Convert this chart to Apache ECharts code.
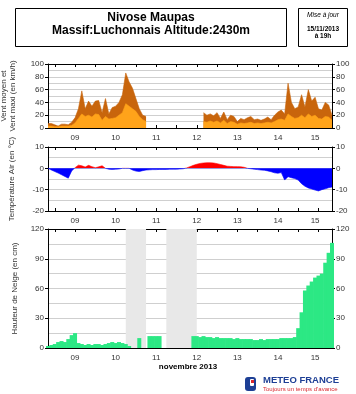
<!DOCTYPE html>
<html><head><meta charset="utf-8">
<script src="https://cdn.jsdelivr.net/npm/echarts@6/dist/echarts.min.js"></script>
<style>html,body{margin:0;padding:0;background:#fff}#c{width:356px;height:394px}</style>
</head><body><div id="c"></div>
<script>
// 2-hourly time steps from 08/11 20h to 15/11 20h
const categories = [];
for (let i = 0; i < 85; i++) {
  const h = 20 + 2 * i, d = 8 + Math.floor(h / 24), hh = h % 24;
  categories.push(String(d).padStart(2, '0') + ' ' + String(hh).padStart(2, '0') + 'h');
}
const dayLabels = {'09 12h':'09','10 12h':'10','11 12h':'11','12 12h':'12','13 12h':'13','14 12h':'14','15 10h':'15'};
const tickHours = ['00h', '12h'];

const windMax = [7,7,5,3,6,6,5,9,16,30, 58,30,42,34,42,43,24,46,22,32, 34,40,52,86,72,62,46,30,20,18,
  null,null,null,null,null,null,null,null,null,null,null,null,null,null,null,null,
  24,20,22,19,24,15,25,13,20,18,10,15,13,16,18,13,14,12,14,17,13,20,25,28,22,70,40,30,33,52,33,60,42,48,30,28,40,36,20];
const windMean = [3,3,2,2,3,3,3,4,8,15, 22,18,20,17,22,21,12,18,14,15, 16,20,24,38,34,30,26,18,13,10,
  null,null,null,null,null,null,null,null,null,null,null,null,null,null,null,null,
  10,9,11,9,11,8,12,7,10,9,6,8,7,8,9,7,8,7,8,9,8,10,13,14,12,22,18,15,16,20,16,22,18,20,15,14,18,17,12];
const temperature = [0,-0.8,-1.5,-2.2,-3.0,-3.8,-4.6,-1.2,0.3,1.5,
  1.2,0.6,1.4,0.8,0.3,0.7,1.2,0,-0.4,-0.5,
  -0.4,-0.3,0,0,0,-0.8,-1.3,-1.5,-1.1,-0.8,
  -0.7,-0.6,-0.6,-0.5,-0.5,-0.5,-0.4,-0.4,-0.4,-0.3,
  -0.2,0.2,0.8,1.4,1.9,2.3,2.5,2.6,2.6,2.5,
  2.2,1.8,1.4,1.0,0.9,0.8,0.8,0.7,0.5,0,
  -0.2,-0.4,-0.6,-0.8,-0.9,-1.2,-1.6,-2.1,-2.3,-2.0,
  -5.5,-3.9,-4.4,-4.8,-5.5,-7.2,-8.4,-9.2,-9.7,-10.2,
  -10.6,-10.0,-9.6,-9.1,-8.8];
const snow = [2,3,4,6,7,6,9,13,15,5,
  4,3,4,3,4,4,3,4,5,6,
  5,6,5,4,2,null,null,10,null,null,
  12,12,12,12,null,null,null,null,null,null,
  null,null,null,12,12,11,12,11,11,10,
  11,10,10,10,10,9,10,9,9,9,
  9,8,8,9,8,9,9,9,9,10,
  10,10,10,11,20,36,58,63,67,71,
  73,75,86,96,106];
const snowGaps = [['10 22h','11 00h'], ['11 04h','11 06h'], ['11 16h','12 10h']];

const FONT = 'Liberation Sans, Arial, sans-serif';
const chart = echarts.init(document.getElementById('c'), null, {renderer: 'canvas'});

function xAx(grid, pos, labels) {
  return {
    type: 'category', data: categories, gridIndex: grid, position: pos, boundaryGap: false,
    axisLine: {show: true, onZero: false, lineStyle: {color: '#000', width: 1}},
    axisTick: {show: true, inside: true, length: 3, lineStyle: {color: '#000'},
      interval: (i, v) => tickHours.includes(v.slice(3))},
    axisLabel: {show: labels, interval: (i, v) => v in dayLabels, formatter: v => dayLabels[v] || '',
      fontSize: 8, color: '#333', margin: 6, fontFamily: FONT},
    splitLine: {show: false}
  };
}
function yAx(grid, pos, min, max, interval, name, nameGap) {
  const left = pos === 'left';
  return {
    type: 'value', gridIndex: grid, position: pos, min, max, interval,
    name: left ? name : '', nameLocation: 'middle', nameGap: nameGap, nameRotate: 90,
    nameTextStyle: {fontSize: 8, color: '#333', fontFamily: FONT, lineHeight: 8.5},
    axisLine: {show: true, lineStyle: {color: '#000', width: 1}},
    axisTick: {show: true, length: 3, lineStyle: {color: '#000'}},
    axisLabel: {fontSize: 8, color: '#333', margin: 4, fontFamily: FONT},
    splitLine: {show: left, lineStyle: {color: '#cfcfcf', width: 1}},
    minorTick: {show: false, splitNumber: 2},
    minorSplitLine: {show: left, lineStyle: {color: '#cfcfcf', width: 1}}
  };
}

const gridBase = {left: 48, right: 24, containLabel: false, outerBoundsMode: 'none'};
const option = {
  animation: false,
  textStyle: {fontFamily: FONT},
  grid: [
    Object.assign({top: 64, height: 64}, gridBase),
    Object.assign({top: 147, height: 64}, gridBase),
    Object.assign({top: 229, height: 119}, gridBase)
  ],
  xAxis: [xAx(0, 'bottom', true), xAx(0, 'top', false), xAx(1, 'bottom', true), xAx(1, 'top', false), xAx(2, 'bottom', true), xAx(2, 'top', false)],
  yAxis: [
    yAx(0, 'left', 0, 100, 20, 'Vent moyen et\nVent maxi (en km/h)', 31),
    yAx(0, 'right', 0, 100, 20),
    yAx(1, 'left', -20, 10, 10, 'Température Air (en °C)', 32),
    yAx(1, 'right', -20, 10, 10),
    yAx(2, 'left', 0, 120, 30, 'Hauteur de Neige (en cm)', 29),
    yAx(2, 'right', 0, 120, 30)
  ],
  visualMap: {show: false, seriesIndex: 2, dimension: 1,
    pieces: [{gte: -30, lt: 0, color: '#0000ff'}, {gte: 0, lte: 30, color: '#ff0000'}]},
  series: [
    {type: 'line', xAxisIndex: 0, yAxisIndex: 0, data: windMax, symbol: 'none', connectNulls: false,
      lineStyle: {color: '#c8650c', width: 0.6}, itemStyle: {color: '#c8650c'}, areaStyle: {color: '#c8650c', opacity: 1}},
    {type: 'line', xAxisIndex: 0, yAxisIndex: 0, data: windMean, symbol: 'none', connectNulls: false,
      lineStyle: {color: '#ffa31a', width: 0.6}, itemStyle: {color: '#ffa31a'}, areaStyle: {color: '#ffa31a', opacity: 1}},
    {type: 'line', xAxisIndex: 2, yAxisIndex: 2, data: temperature, symbol: 'none',
      lineStyle: {width: 0.6}, areaStyle: {opacity: 1}},
    {type: 'bar', xAxisIndex: 4, yAxisIndex: 4, data: snow, barWidth: 4,
      itemStyle: {color: '#2ce884'},
      markArea: {silent: true, itemStyle: {color: '#e8e8e8'},
        data: snowGaps.map(g => [{xAxis: g[0]}, {xAxis: g[1]}])}}
  ],
  graphic: [
    {type: 'rect', shape: {x: 15.5, y: 8.5, width: 271, height: 38}, style: {fill: 'none', stroke: '#000', lineWidth: 1}},
    {type: 'text', x: 151, y: 17.5, style: {text: 'Nivose Maupas', font: 'bold 12px ' + FONT, fill: '#000', align: 'center', verticalAlign: 'middle'}},
    {type: 'text', x: 151, y: 31, style: {text: 'Massif:Luchonnais Altitude:2430m', font: 'bold 12px ' + FONT, fill: '#000', align: 'center', verticalAlign: 'middle'}},
    {type: 'rect', shape: {x: 298.5, y: 8.5, width: 49, height: 38}, style: {fill: 'none', stroke: '#000', lineWidth: 1}},
    {type: 'text', x: 323, y: 15, style: {text: 'Mise à jour', font: 'italic 6.5px ' + FONT, fill: '#000', align: 'center', verticalAlign: 'middle'}},
    {type: 'text', x: 323, y: 29, style: {text: '15/11/2013', font: 'bold 6.5px ' + FONT, fill: '#000', align: 'center', verticalAlign: 'middle'}},
    {type: 'text', x: 323, y: 36.5, style: {text: 'à 19h', font: 'bold 6.5px ' + FONT, fill: '#000', align: 'center', verticalAlign: 'middle'}},
    {type: 'text', x: 188, y: 367, style: {text: 'novembre 2013', font: 'bold 8px ' + FONT, fill: '#000', align: 'center', verticalAlign: 'middle'}},
    {type: 'rect', shape: {x: 245, y: 377, width: 11, height: 14, r: 3}, style: {fill: '#1d3f95'}},
    {type: 'rect', shape: {x: 250, y: 379, width: 4, height: 7, r: 1}, style: {fill: '#fff'}},
    {type: 'rect', shape: {x: 251, y: 380, width: 3, height: 3}, style: {fill: '#d9282f'}},
    {type: 'text', x: 263, y: 380.5, style: {text: 'METEO FRANCE', font: 'bold 9.5px ' + FONT, fill: '#1d3f95', align: 'left', verticalAlign: 'middle'}},
    {type: 'text', x: 263, y: 389, style: {text: 'Toujours un temps d\u2019avance', font: '6px ' + FONT, fill: '#d9282f', align: 'left', verticalAlign: 'middle'}}
  ]
};
chart.setOption(option);
</script></body></html>
